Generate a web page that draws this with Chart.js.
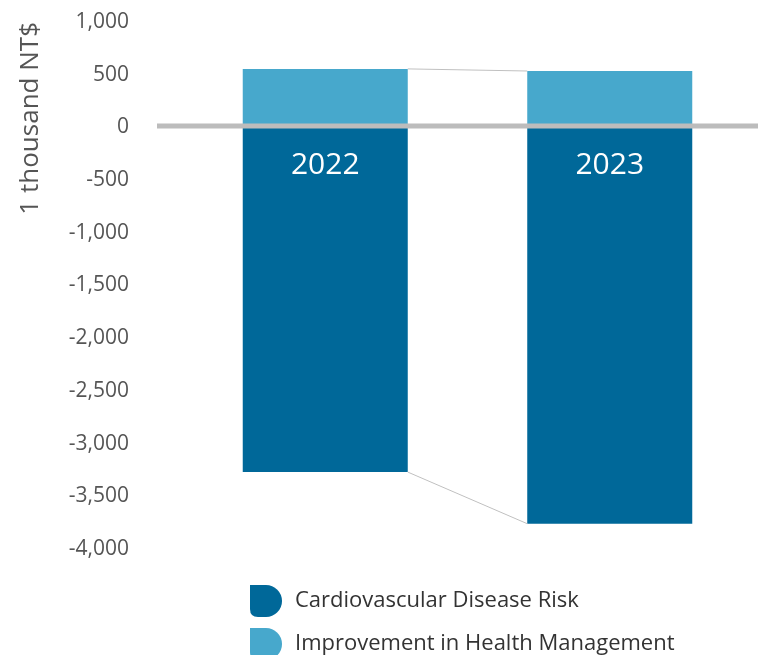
<!DOCTYPE html>
<html>
<head>
<meta charset="utf-8">
<script src="https://cdn.jsdelivr.net/npm/chart.js@4.4.0/dist/chart.umd.min.js"></script>
<style>
  html, body { margin: 0; padding: 0; background: #fff; }
  #wrap { width: 758px; height: 655px; }
</style>
</head>
<body>
<div id="wrap"><canvas id="chart" width="758" height="655"></canvas></div>
<script>
const years = ['2022', '2023'];
const cardioRisk = [-3270, -3760];
const healthGain = [555, 535];
const yTicks = [1000, 500, 0, -500, -1000, -1500, -2000, -2500, -3000, -3500, -4000];

const darkBlue = '#006899';
const lightBlue = '#47a8cc';
const grey = '#555555';
const font = '"Open Sans", sans-serif';

// thin grey lines joining the bar ends, the thick zero line, year labels and legend
const extras = {
    id: 'extras',
    afterDatasetsDraw(chart) {
        const c = chart.ctx;
        const y = chart.scales.y;
        const neg = chart.getDatasetMeta(0).data;
        const pos = chart.getDatasetMeta(1).data;

        c.save();
        c.strokeStyle = '#c0c0c0';
        c.lineWidth = 1;
        for (let i = 0; i < neg.length - 1; i++) {
            const a = pos[i], b = pos[i + 1];
            c.beginPath();
            c.moveTo(a.x + a.width / 2, a.y);
            c.lineTo(b.x - b.width / 2, b.y);
            c.stroke();
            const p = neg[i], q = neg[i + 1];
            c.beginPath();
            c.moveTo(p.x + p.width / 2, p.y);
            c.lineTo(q.x - q.width / 2, q.y);
            c.stroke();
        }

        const zy = y.getPixelForValue(0) - 1.5;
        c.strokeStyle = '#bcbcbc';
        c.lineWidth = 5;
        c.beginPath();
        c.moveTo(157, zy);
        c.lineTo(chart.width, zy);
        c.stroke();

        c.fillStyle = '#ffffff';
        c.font = '30px ' + font;
        c.textAlign = 'center';
        c.textBaseline = 'middle';
        neg.forEach((bar, i) => {
            c.fillText(years[i], bar.x, zy + 40);
        });

        // legend
        const items = chart.data.datasets.map(d => ({ label: d.label, color: d.backgroundColor }));
        c.font = '22px ' + font;
        c.textAlign = 'left';
        items.forEach((it, i) => {
            const x0 = 250, y0 = 585 + i * 43, s = 32;
            c.fillStyle = it.color;
            c.beginPath();
            c.moveTo(x0, y0);
            c.lineTo(x0 + s / 2, y0);
            c.arc(x0 + s / 2, y0 + s / 2, s / 2, -Math.PI / 2, Math.PI / 2);
            c.lineTo(x0 + 8, y0 + s);
            c.quadraticCurveTo(x0, y0 + s, x0, y0 + s - 8);
            c.closePath();
            c.fill();
            c.fillStyle = '#333333';
            c.fillText(it.label, 295, y0 + s / 2);
        });
        c.restore();
    }
};

new Chart(document.getElementById('chart'), {
    type: 'bar',
    data: {
        labels: years,
        datasets: [
            { label: 'Cardiovascular Disease Risk', data: cardioRisk, backgroundColor: darkBlue },
            { label: 'Improvement in Health Management', data: healthGain, backgroundColor: lightBlue }
        ]
    },
    options: {
        responsive: false,
        animation: false,
        layout: { padding: { top: 22, right: 6, bottom: 106, left: 0 } },
        plugins: { legend: { display: false }, tooltip: { enabled: false } },
        datasets: { bar: { categoryPercentage: 1, barPercentage: 0.58 } },
        scales: {
            x: { stacked: true, display: false },
            y: {
                stacked: true,
                min: -4000,
                max: 1000,
                afterBuildTicks: (s) => { s.ticks = yTicks.map(v => ({ value: v })); },
                afterFit: (s) => { s.width = 183; s.paddingTop = 0; s.paddingBottom = 0; },
                grid: { display: false },
                border: { display: false },
                ticks: {
                    color: grey,
                    padding: 46,
                    font: { family: font, size: 21 },
                    callback: (v) => v.toLocaleString('en-US')
                },
                title: {
                    display: true,
                    text: '1 thousand NT$',
                    align: 'end',
                    color: grey,
                    font: { family: font, size: 26 },
                    padding: { top: 15, bottom: 0 }
                }
            }
        }
    },
    plugins: [extras]
});
</script>
</body>
</html>
